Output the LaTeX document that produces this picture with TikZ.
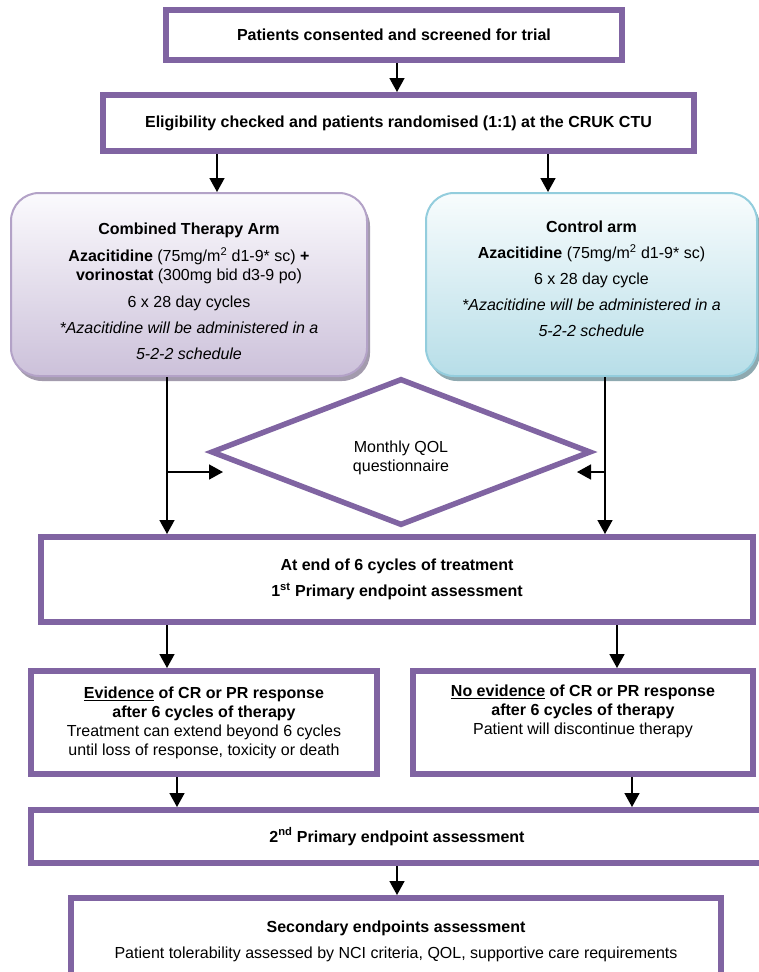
\documentclass[tikz,border=0pt]{standalone}
\usepackage{fontspec}
\setmainfont{Liberation Sans}
\usetikzlibrary{arrows.meta,shapes.geometric,shadows}

\definecolor{trialpurple}{HTML}{8064A2}
\definecolor{lilacline}{HTML}{B3A2C7}
\definecolor{lilactop}{HTML}{FBFAFD}
\definecolor{lilacbot}{HTML}{CCC1DA}
\definecolor{lilacshade}{HTML}{A39BAD}
\definecolor{aqualine}{HTML}{93CDDD}
\definecolor{aquatop}{HTML}{F8FCFD}
\definecolor{aquabot}{HTML}{B7DEE8}
\definecolor{aquashade}{HTML}{8EA9B0}

\tikzset{
  bodytext/.style={font=\fontsize{16}{19}\selectfont},
  headtext/.style={font=\fontsize{16}{19}\selectfont\bfseries},
  stagebox/.style={draw=trialpurple, line width=6pt, fill=white, align=center, inner sep=0pt},
  armbox/.style={rounded corners=28pt, line width=2pt, align=center, inner sep=0pt,
    minimum height=183pt, bodytext},
  qolshape/.style={diamond, draw=trialpurple, line width=5.5pt, fill=white, align=center,
    inner sep=0pt, bodytext},
  flow/.style={-{Triangle[width=15pt,length=14pt]}, line width=1.6pt}
}

\begin{document}
\begin{tikzpicture}[x=1pt, y=-1pt]
  \useasboundingbox (0,0) rectangle (759,972);
  \clip (0,0) rectangle (759,972);

  \node[stagebox, headtext, minimum width=456pt, minimum height=50pt] (screen) at (394,35)
    {Patients consented and screened for trial};
  \node[stagebox, headtext, minimum width=591pt, minimum height=56pt] (random) at (398.5,123)
    {Eligibility checked and patients randomised (1:1) at the CRUK CTU};

  \node[armbox, draw=lilacline, top color=lilactop, bottom color=lilacbot,
    drop shadow={shadow xshift=3pt, shadow yshift=-5pt, fill=lilacshade, opacity=1},
    minimum width=356pt] (combo) at (189,284.5)
    {\rule{0pt}{26pt}\textbf{Combined Therapy Arm}\\[8pt]
     \textbf{Azacitidine} (75mg/m\textsuperscript{2} d1-9* sc) \textbf{+}\\
     \textbf{vorinostat} (300mg bid d3-9 po)\\[8pt]
     6 x 28 day cycles\\[7pt]
     \textit{*Azacitidine will be administered in a}\\[7pt]
     \textit{5-2-2 schedule}};
  \node[armbox, draw=aqualine, top color=aquatop, bottom color=aquabot,
    drop shadow={shadow xshift=3pt, shadow yshift=-5pt, fill=aquashade, opacity=1},
    minimum width=331pt] (ctrl) at (591.5,284.5)
    {\textbf{Control arm}\\[7pt]
     \textbf{Azacitidine} (75mg/m\textsuperscript{2} d1-9* sc)\\[7pt]
     6 x 28 day cycle\\[7pt]
     \textit{*Azacitidine will be administered in a}\\[7pt]
     \textit{5-2-2 schedule}\rule[-12pt]{0pt}{0pt}};

  \node[qolshape, minimum width=380pt, minimum height=147pt] (qol) at (401,452)
    {\rule{0pt}{24pt}Monthly QOL\\questionnaire};

  \node[stagebox, headtext, minimum width=712pt, minimum height=85pt] (cycles) at (397,579.5)
    {At end of 6 cycles of treatment\\[7pt]1\textsuperscript{st} Primary endpoint assessment};

  \node[stagebox, bodytext, minimum width=346pt, minimum height=103pt] (resp) at (204,722.5)
    {\textbf{\underline{Evidence} of CR or PR response}\\
     \textbf{after 6 cycles of therapy}\\
     Treatment can extend beyond 6 cycles\\
     until loss of response, toxicity or death};
  \node[stagebox, bodytext, minimum width=340pt, minimum height=103pt] (nores) at (583,722.5)
    {\textbf{\underline{No evidence} of CR or PR response}\\
     \textbf{after 6 cycles of therapy}\\
     Patient will discontinue therapy\\
     \strut};

  \node[stagebox, headtext, minimum width=732pt, minimum height=53pt] (second) at (397,836.5)
    {2\textsuperscript{nd} Primary endpoint assessment};
  \node[stagebox, bodytext, minimum width=650pt, minimum height=86pt] (secondary) at (396,941)
    {\textbf{Secondary endpoints assessment}\\[7pt]
     Patient tolerability assessed by NCI criteria, QOL, supportive care requirements};

  % questionnaire taps
  \coordinate (tapL) at (167,472);
  \coordinate (qolL) at (223,472);
  \coordinate (tapR) at (605,472);
  \coordinate (qolR) at (577,472);

  \draw[flow] (screen.south -| 397,0) -- (random.north -| 397,0);
  \draw[flow] (random.south -| 217,0) -- (combo.north -| 217,0);
  \draw[flow] (random.south -| 548,0) -- (ctrl.north -| 548,0);
  \draw[flow] (combo.south -| 167,0) -- (cycles.north -| 167,0);
  \draw[flow] (ctrl.south -| 605,0) -- (cycles.north -| 605,0);
  \draw[flow] (tapL) -- (qolL);
  \draw[flow] (tapR) -- (qolR);
  \draw[flow] (cycles.south -| 167,0) -- (resp.north -| 167,0);
  \draw[flow] (cycles.south -| 617,0) -- (nores.north -| 617,0);
  \draw[flow] (resp.south -| 177,0) -- (second.north -| 177,0);
  \draw[flow] (nores.south -| 632,0) -- (second.north -| 632,0);
  \draw[flow] (second.south -| 397,0) -- (secondary.north -| 397,0);
\end{tikzpicture}
\end{document}
